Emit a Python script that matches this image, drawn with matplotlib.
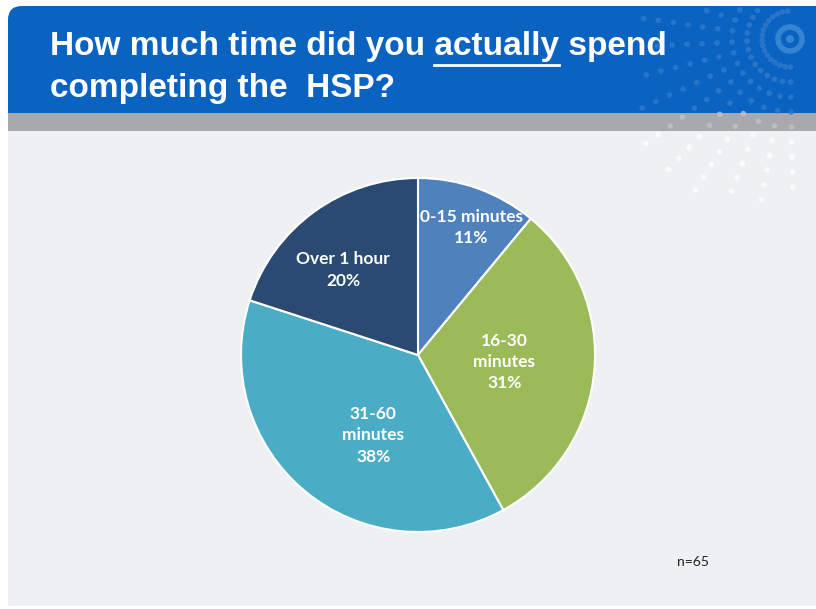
import numpy as np
import matplotlib
matplotlib.use("Agg")
from matplotlib import pyplot as plt
from matplotlib.patches import Rectangle, FancyBboxPatch, Circle

# data
categories = ['0-15 minutes', '16-30\nminutes', '31-60\nminutes', 'Over 1 hour']
percents = [11, 31, 38, 20]
colors = ['#4F81BD', '#9BBB59', '#4BACC6', '#2A4A72']
n_text = 'n=65'

# label placement (fraction of radius, angle nudge in degrees)
label_r = [0.78, 0.49, 0.52, 0.64]
label_nudge = [-3, 0.8, 10.6, 5.4]

W, H = 816, 609
fig = plt.figure(figsize=(W / 100, H / 100), dpi=100)
fig.patch.set_facecolor('white')

# slide background in pixel coords
bg = fig.add_axes([0, 0, 1, 1])
bg.set_xlim(0, W)
bg.set_ylim(H, 0)
bg.axis('off')

bg.add_patch(Rectangle((8, 100), W - 8, 506, facecolor='#EEF1F1', edgecolor='none'))
bg.add_patch(FancyBboxPatch((8 + 14, 6 + 14), W, 140, boxstyle='round,pad=14',
                            facecolor='#0B63C1', edgecolor='none', mutation_aspect=1))
bg.add_patch(Rectangle((8, 113), W, 18, facecolor='#A7A9AC', edgecolor='none'))
bg.add_patch(Rectangle((8, 131), W, 475, facecolor='#EEF1F1', edgecolor='none'))

# decorative dots
cx, cy = 790, 39
for ang in np.arange(95, 275, 11):
    for rr in np.arange(28, 190, 15):
        px = cx + rr * np.cos(np.radians(ang))
        py = cy - rr * np.sin(np.radians(ang))
        if px < 640 or py < 6 or py > 200:
            continue
        if py < 113:
            c, a = '#2F7ACD', 0.8
        elif py < 131:
            c, a = '#BFC1C4', 0.8
        else:
            c, a = 'white', 0.75
        bg.add_patch(Circle((px, py), 2.8, facecolor=c, edgecolor='none', alpha=a))
bg.add_patch(Circle((cx, cy), 12, facecolor='none', edgecolor='#3584D4', lw=4))
bg.add_patch(Circle((cx, cy), 4, facecolor='#3584D4', edgecolor='none'))

# title
tfont = dict(family='Liberation Sans', weight='bold', size=24, color='white')
pre = 'How much time did you '
word = 'actually'
bg.text(50, 47, pre + word + ' spend', va='center', ha='left', **tfont)
bg.text(50, 88, 'completing the  HSP?', va='center', ha='left', **tfont)

fig.canvas.draw()
r = fig.canvas.get_renderer()
tmp = bg.text(50, 47, pre, va='center', ha='left', **tfont)
x0 = tmp.get_window_extent(r).x1
tmp.set_text(pre + word)
x1 = tmp.get_window_extent(r).x1
tmp.remove()
x0d = bg.transData.inverted().transform((x0, 0))[0]
x1d = bg.transData.inverted().transform((x1, 0))[0]
bg.plot([x0d, x1d], [65, 65], color='white', lw=2)

# pie
R = 177
pcx, pcy = 418, 355
ax = fig.add_axes([(pcx - R) / W, (H - pcy - R) / H, 2 * R / W, 2 * R / H])
wedges, _ = ax.pie(percents, colors=colors, startangle=90, counterclock=False,
                   wedgeprops=dict(edgecolor='white', linewidth=1.5))
ax.set_aspect('equal')
ax.set_xlim(-1.0, 1.0)
ax.set_ylim(-1.0, 1.0)

for w, lab, p, lr, nd in zip(wedges, categories, percents, label_r, label_nudge):
    mid = (w.theta1 + w.theta2) / 2 + nd
    x = lr * np.cos(np.radians(mid))
    y = lr * np.sin(np.radians(mid))
    ax.text(x, y, f'{lab}\n{p}%', ha='center', va='center', color='white',
            family='Lato', weight='bold', size=12.5, linespacing=1.4)

bg.text(693, 562, n_text, ha='center', va='center', color='#222222',
        family='Lato', size=10)

fig.savefig('out.png', dpi=100)
